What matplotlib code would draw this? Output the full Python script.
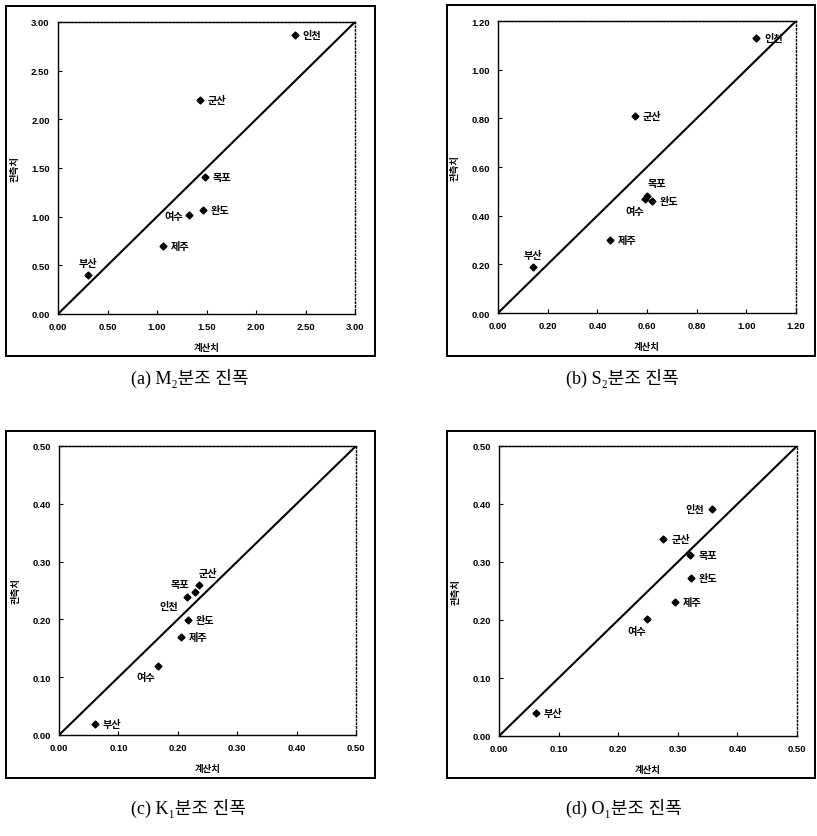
import matplotlib
matplotlib.use('Agg')
import matplotlib.pyplot as plt
from matplotlib.patches import Rectangle

# stations (same order in every panel)
stations = ['인천', '군산', '목포', '완도', '여수', '제주', '부산']

# calculated (x) / observed (y) amplitudes
m2_calc = [2.39, 1.43, 1.48, 1.46, 1.32, 1.06, 0.30]
m2_obs = [2.87, 2.20, 1.41, 1.07, 1.02, 0.70, 0.40]

s2_calc = [1.04, 0.55, 0.60, 0.62, 0.59, 0.45, 0.14]
s2_obs = [1.13, 0.81, 0.48, 0.46, 0.47, 0.30, 0.19]

k1_calc = [0.216, 0.236, 0.229, 0.217, 0.167, 0.205, 0.060]
k1_obs = [0.238, 0.260, 0.248, 0.199, 0.119, 0.169, 0.019]

o1_calc = [0.358, 0.276, 0.321, 0.322, 0.249, 0.295, 0.062]
o1_obs = [0.392, 0.340, 0.312, 0.272, 0.201, 0.231, 0.039]

axis_max = [3.0, 1.2, 0.5, 0.5]
tick_step = [0.5, 0.2, 0.1, 0.1]
captions = ['(a) M\u2082분조 진폭', '(b) S\u2082분조 진폭',
            '(c) K\u2081분조 진폭', '(d) O\u2081분조 진폭']

# label placement per panel: (dx px, dy px, ha)
R = (8, 0, 'left')
offs_a = [R, R, R, R, (-6, -1, 'right'), R, (0, 12, 'center')]
offs_b = [R, R, (10, 13, 'center'), R, (-10, -12, 'center'), R, (0, 12, 'center')]
offs_c = [(-18, -9, 'center'), (9, 12, 'center'), (-15, 8, 'center'), R, (-12, -11, 'center'), R, R]
offs_d = [(-8, 0, 'right'), R, R, R, (-11, -12, 'center'), R, R]

W, H = 817, 837
fig = plt.figure(figsize=(W / 100, H / 100), dpi=100)

# axes boxes in pixels (left, top, right, bottom)
ax_px = [(58, 23, 355, 315), (498, 22, 796, 314),
         (59, 447, 356, 736), (499, 447, 797, 737)]
frame_px = [(6, 7, 375, 357), (447, 6, 815, 357),
            (6, 432, 375, 779), (447, 432, 815, 779)]
cap_px = [(190, 378), (622, 378), (188, 808), (624, 808)]

tick_font = {'family': 'Liberation Sans', 'weight': 'bold', 'size': 6.8}
kor = ['Noto Sans CJK KR', 'DejaVu Sans']


def panel(i, calc, obs, offs):
    l, t, r, b = ax_px[i]
    ax = fig.add_axes([l / W, 1 - b / H, (r - l) / W, (b - t) / H])
    m = axis_max[i]
    ax.set_xlim(0, m)
    ax.set_ylim(0, m)
    ax.plot([0, m], [0, m], color='black', lw=1.5)
    ax.plot(calc, obs, 'D', color='black', ms=3.5, ls='none')
    for name, x, y, (dx, dy, ha) in zip(stations, calc, obs, offs):
        ax.annotate(name, (x, y), xytext=(dx * 0.72, dy * 0.72), textcoords='offset points',
                    ha=ha, va='center', fontsize=7.3, fontweight='bold', family=kor)
    n = int(round(m / tick_step[i]))
    ticks = [k * tick_step[i] for k in range(n + 1)]
    ax.set_xticks(ticks)
    ax.set_yticks(ticks)
    ax.set_xticklabels(['%.2f' % v for v in ticks], fontdict=tick_font)
    ax.set_yticklabels(['%.2f' % v for v in ticks], fontdict=tick_font)
    ax.tick_params(direction='in', length=3, width=0.8, pad=6)
    for s in ax.spines.values():
        s.set_linewidth(1.0)
    ax.spines['right'].set_linestyle(':')
    ax.spines['top'].set_linestyle((0, (2, 0.6)))
    ax.set_xlabel('계산치', fontsize=6.8, fontweight='bold', family=kor)
    ax.set_ylabel('관측치', fontsize=6.8, fontweight='bold', family=kor)
    ax.xaxis.set_label_coords(0.5, -28 / (b - t))
    ax.yaxis.set_label_coords(-38 / (r - l), 0.5)

    fl, ft, fr, fb = frame_px[i]
    fig.patches.append(Rectangle((fl / W, 1 - fb / H), (fr - fl) / W, (fb - ft) / H,
                                 transform=fig.transFigure, fill=False,
                                 edgecolor='black', lw=1.4))
    cx, cy = cap_px[i]
    fig.text(cx / W, 1 - cy / H, captions[i], ha='center', va='center',
             fontsize=13, family=['Liberation Serif', 'Noto Sans CJK KR', 'DejaVu Serif'])


panel(0, m2_calc, m2_obs, offs_a)
panel(1, s2_calc, s2_obs, offs_b)
panel(2, k1_calc, k1_obs, offs_c)
panel(3, o1_calc, o1_obs, offs_d)

plt.savefig('out.png', dpi=100)
